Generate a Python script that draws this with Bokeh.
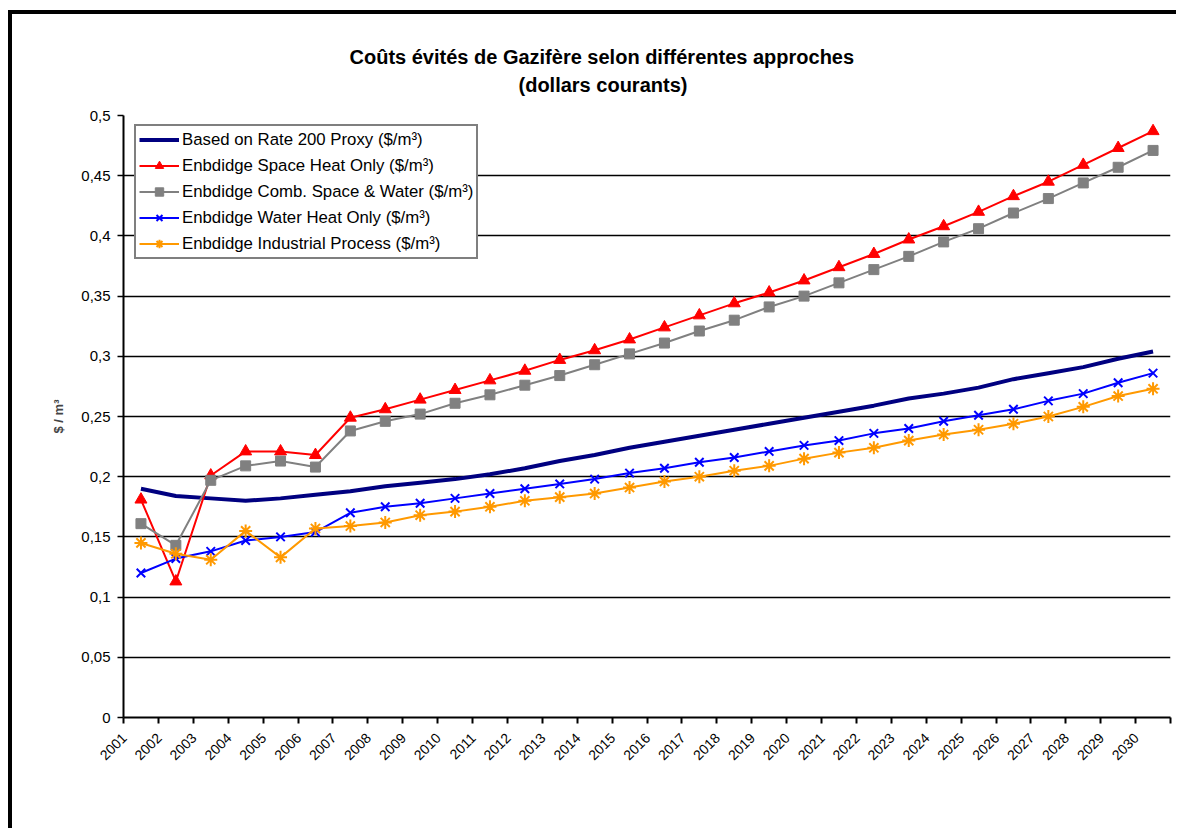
import math
from bokeh.plotting import figure
from bokeh.models import (FixedTicker, CustomJSTickFormatter, Legend, LegendItem,
                          Range1d, Title)
from bokeh.embed import file_html
from bokeh.resources import INLINE

# ---------------- data ----------------
years = [str(y) for y in range(2001, 2031)]

rate200 = [0.190, 0.184, 0.182, 0.180, 0.182, 0.185, 0.188, 0.192, 0.195, 0.198,
           0.202, 0.207, 0.213, 0.218, 0.224, 0.229, 0.234, 0.239, 0.244, 0.249,
           0.254, 0.259, 0.265, 0.269, 0.274, 0.281, 0.286, 0.291, 0.298, 0.304]
space_heat = [0.181, 0.113, 0.201, 0.221, 0.221, 0.218, 0.249, 0.256, 0.264, 0.272,
              0.280, 0.288, 0.297, 0.305, 0.314, 0.324, 0.334, 0.344, 0.353, 0.363,
              0.374, 0.385, 0.397, 0.408, 0.420, 0.433, 0.445, 0.459, 0.473, 0.487]
comb = [0.161, 0.143, 0.197, 0.209, 0.213, 0.208, 0.238, 0.246, 0.252, 0.261,
        0.268, 0.276, 0.284, 0.293, 0.302, 0.311, 0.321, 0.330, 0.341, 0.350,
        0.361, 0.372, 0.383, 0.395, 0.406, 0.419, 0.431, 0.444, 0.457, 0.471]
water = [0.120, 0.132, 0.138, 0.147, 0.150, 0.154, 0.170, 0.175, 0.178, 0.182,
         0.186, 0.190, 0.194, 0.198, 0.203, 0.207, 0.212, 0.216, 0.221, 0.226,
         0.230, 0.236, 0.240, 0.246, 0.251, 0.256, 0.263, 0.269, 0.278, 0.286]
industrial = [0.145, 0.136, 0.131, 0.155, 0.133, 0.157, 0.159, 0.162, 0.168, 0.171,
              0.175, 0.180, 0.183, 0.186, 0.191, 0.196, 0.200, 0.205, 0.209, 0.215,
              0.220, 0.224, 0.230, 0.235, 0.239, 0.244, 0.250, 0.258, 0.267, 0.273]

y_ticks = [0, 0.05, 0.1, 0.15, 0.2, 0.25, 0.3, 0.35, 0.4, 0.45, 0.5]

series_labels = ["Based on Rate 200 Proxy ($/m³)",
                 "Enbdidge Space Heat Only ($/m³)",
                 "Enbdidge Comb. Space & Water ($/m³)",
                 "Enbdidge Water Heat Only ($/m³)",
                 "Enbdidge Industrial Process ($/m³)"]
title_lines = ["Coûts évités de Gazifère selon différentes approches", "(dollars courants)"]
y_label = "$ / m³"

xs = list(range(1, len(years) + 1))
FONT = "Liberation Sans"
LABEL_SHIFT = 0.48

# ---------------- figure ----------------
p = figure(width=1168, height=818, output_backend="svg", toolbar_location=None,
           x_range=Range1d(0.5, len(years) + 0.5), y_range=Range1d(0, 0.5),
           min_border_left=111, min_border_right=10, min_border_top=101,
           min_border_bottom=115, background_fill_color="white",
           border_fill_color="white", outline_line_color=None)
p.styles = {"border-top": "4px solid black", "border-left": "4px solid black",
            "margin-top": "10px", "margin-left": "8px"}

# title: two lines, centred on the chart area (left-aligned with offsets)
p.title.visible = False
spacer = Title(text=" ", align="left", standoff=-4, text_font=FONT,
               text_font_size="20px", text_color="white")
t2 = Title(text=title_lines[1], align="left", offset=395, standoff=0,
           text_font=FONT, text_font_style="bold", text_font_size="20px",
           text_color="black")
t1 = Title(text=title_lines[0], align="left", offset=226, standoff=8,
           text_font=FONT, text_font_style="bold", text_font_size="20px",
           text_color="black")
p.add_layout(spacer, "above")
p.add_layout(t2, "above")
p.add_layout(t1, "above")

# grid
p.xgrid.visible = False
p.ygrid.ticker = FixedTicker(ticks=y_ticks)
p.ygrid.grid_line_color = "black"
p.ygrid.grid_line_width = 1.7

# y axis
ya = p.yaxis[0]
ya.ticker = FixedTicker(ticks=y_ticks)
ya.formatter = CustomJSTickFormatter(code="return String(Math.round(tick*100)/100).replace('.', ',');")
ya.axis_line_width = 2
ya.axis_line_color = "black"
ya.major_tick_out = 6
ya.major_tick_in = 0
ya.major_tick_line_width = 1.5
ya.minor_tick_line_color = None
ya.major_label_text_font = FONT
ya.major_label_text_font_size = "15px"
ya.major_label_text_color = "black"
ya.major_label_standoff = 7
ya.axis_label = y_label
ya.axis_label_text_font = FONT
ya.axis_label_text_font_style = "bold"
ya.axis_label_text_font_size = "13px"
ya.axis_label_standoff = 12

# x axis
xa = p.xaxis[0]
xa.ticker = FixedTicker(ticks=[i - LABEL_SHIFT for i in xs],
                        minor_ticks=[i + 0.5 for i in range(0, len(years) + 1)])
xa.formatter = CustomJSTickFormatter(args=dict(labels=years, shift=LABEL_SHIFT),
                                     code="return labels[Math.round(tick + shift) - 1];")
xa.axis_line_width = 2
xa.axis_line_color = "black"
xa.major_tick_out = 0
xa.major_tick_in = 0
xa.minor_tick_out = 6
xa.minor_tick_in = 0
xa.minor_tick_line_width = 2
xa.minor_tick_line_color = "black"
xa.major_label_orientation = math.pi / 4
xa.major_label_text_font = FONT
xa.major_label_text_font_size = "14px"
xa.major_label_text_color = "black"
xa.major_label_standoff = 12

# series
r0 = p.line(xs, rate200, line_color="#000080", line_width=4)
l1 = p.line(xs, space_heat, line_color="#FF0000", line_width=2)
m1 = p.scatter(xs, space_heat, marker="triangle", size=12, fill_color="#FF0000", line_color="#FF0000")
l2 = p.line(xs, comb, line_color="#808080", line_width=2)
m2 = p.scatter(xs, comb, marker="square", size=10, fill_color="#808080", line_color="#808080")
l3 = p.line(xs, water, line_color="#0000FF", line_width=2)
m3 = p.scatter(xs, water, marker="x", size=12, line_color="#0000FF", line_width=2)
l4 = p.line(xs, industrial, line_color="#FF9900", line_width=2)
m4 = p.scatter(xs, industrial, marker="asterisk", size=13, line_color="#FF9900", line_width=2)

legend = Legend(items=[
    LegendItem(label=series_labels[0], renderers=[r0]),
    LegendItem(label=series_labels[1], renderers=[l1, m1]),
    LegendItem(label=series_labels[2], renderers=[l2, m2]),
    LegendItem(label=series_labels[3], renderers=[l3, m3]),
    LegendItem(label=series_labels[4], renderers=[l4, m4]),
], location=(11, 458))
legend.label_text_font = FONT
legend.label_text_font_size = "16.8px"
legend.label_text_color = "black"
legend.label_height = 21
legend.glyph_height = 21
legend.glyph_width = 40
legend.label_standoff = 3
legend.spacing = 5
legend.padding = 3
legend.margin = 0
legend.border_line_color = "black"
legend.border_line_width = 2
legend.background_fill_color = "white"
legend.background_fill_alpha = 1
p.add_layout(legend, "center")

open("out.html", "w").write(file_html(p, INLINE))
